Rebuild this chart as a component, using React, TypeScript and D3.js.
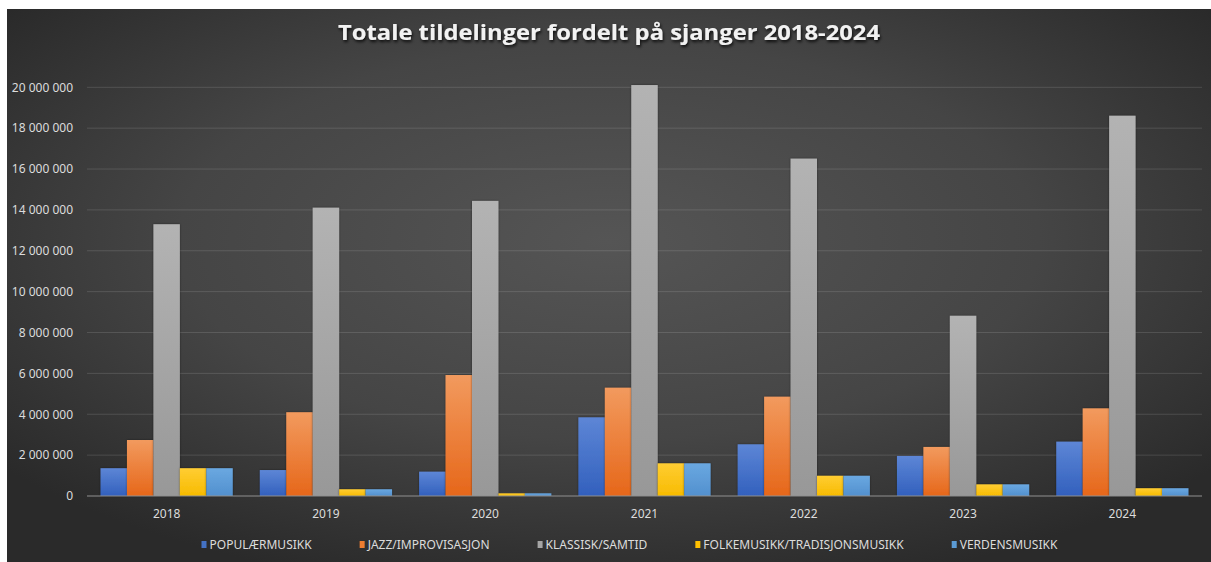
import React from "react";
import * as d3 from "d3";

const years = ["2018", "2019", "2020", "2021", "2022", "2023", "2024"];
const seriesNames = [
  "POPULÆRMUSIKK",
  "JAZZ/IMPROVISASJON",
  "KLASSISK/SAMTID",
  "FOLKEMUSIKK/TRADISJONSMUSIKK",
  "VERDENSMUSIKK",
];
const popular = [1360000, 1270000, 1190000, 3850000, 2530000, 1960000, 2660000];
const jazz = [2740000, 4100000, 5920000, 5300000, 4860000, 2400000, 4290000];
const klassisk = [13300000, 14110000, 14440000, 20110000, 16510000, 8820000, 18610000];
const folk = [1360000, 330000, 130000, 1600000, 990000, 570000, 380000];
const verden = [1360000, 330000, 130000, 1600000, 990000, 570000, 380000];
const yTicks = [0, 2000000, 4000000, 6000000, 8000000, 10000000, 12000000, 14000000, 16000000, 18000000, 20000000];

const seriesValues = [popular, jazz, klassisk, folk, verden];
const colors = ["#4472C4", "#ED7D31", "#A5A5A5", "#FFC000", "#5B9BD5"];
const gradTop = ["#5d86d6", "#f29a5e", "#b3b3b3", "#ffcd33", "#6aa8e1"];
const gradBot = ["#3260bd", "#e6671a", "#989898", "#f7bb00", "#5290ce"];

const W = 1211;
const H = 562;
const FONT = "'Noto Sans', 'Open Sans', sans-serif";

function measure(text: string, font: string): number {
  const c = document.createElement("canvas");
  const ctx = c.getContext("2d");
  if (!ctx) return text.length * 7;
  ctx.font = font;
  return ctx.measureText(text).width;
}

export default function App() {
  const x0 = d3.scaleBand<string>().domain(years).range([87, 1202]).paddingInner(0.17).paddingOuter(0.085);
  const x1 = d3.scaleBand<number>().domain(d3.range(seriesNames.length)).range([0, x0.bandwidth()]).padding(0);
  const y = d3.scaleLinear().domain([0, 20000000]).range([496, 87.3]);
  const fmt = (v: number) => d3.format(",")(v).replace(/,/g, " ");

  const legendFont = `12px ${FONT}`;
  let lx = 201.5;
  const legendItems = seriesNames.map((name, i) => {
    const w = measure(name, legendFont);
    const item = { name, i, x: lx, w };
    lx += 8 + w + 48;
    return item;
  });

  return (
    <svg width={W} height={H} style={{ position: "absolute", left: 0, top: 0 }}>
      <defs>
        <radialGradient id="bg" cx="50%" cy="42%" r="65%">
          <stop offset="0%" stopColor="#555555" />
          <stop offset="55%" stopColor="#454545" />
          <stop offset="100%" stopColor="#2a2a2a" />
        </radialGradient>
        {colors.map((c, i) => (
          <linearGradient key={i} id={`g${i}`} x1="0" y1="0" x2="0" y2="1">
            <stop offset="0%" stopColor={gradTop[i]} />
            <stop offset="100%" stopColor={gradBot[i]} />
          </linearGradient>
        ))}
        <filter id="tshadow" x="-5%" y="-30%" width="110%" height="160%">
          <feDropShadow dx="1" dy="2" stdDeviation="1.5" floodColor="#000" floodOpacity="0.8" />
        </filter>
        <filter id="bshadow" x="-20%" y="-5%" width="140%" height="110%">
          <feDropShadow dx="0" dy="0" stdDeviation="1.2" floodColor="#000" floodOpacity="0.45" />
        </filter>
      </defs>
      <rect x={0} y={0} width={W} height={H} fill="#ffffff" />
      <rect x={7} y={9} width={W - 7} height={H - 9} fill="url(#bg)" />

      <text
        x={609}
        y={39.5}
        textAnchor="middle"
        fontFamily="'Open Sans', 'Noto Sans', sans-serif"
        fontWeight="bold"
        fontSize={21}
        fill="#f2f2f2"
        filter="url(#tshadow)"
        textLength={542}
        lengthAdjust="spacingAndGlyphs"
      >
        Totale tildelinger fordelt på sjanger 2018-2024
      </text>

      {yTicks.map((t) => (
        <g key={t}>
          {t > 0 && (
            <line x1={87} x2={1202} y1={y(t)} y2={y(t)} stroke="#ffffff" strokeOpacity={0.13} strokeWidth={1} />
          )}
          <text x={73} y={y(t) + 4.3} textAnchor="end" fontFamily={FONT} fontSize={12} fill="#dcdcdc">
            {fmt(t)}
          </text>
        </g>
      ))}

      {years.map((yr, yi) => (
        <g key={yr} transform={`translate(${x0(yr)},0)`}>
          {seriesValues.map((vals, si) => (
            <rect
              key={si}
              x={x1(si)}
              y={y(vals[yi])}
              width={x1.bandwidth()}
              height={y(0) - y(vals[yi])}
              fill={`url(#g${si})`}
              filter="url(#bshadow)"
            />
          ))}
        </g>
      ))}

      <line x1={87} x2={1202} y1={y(0)} y2={y(0)} stroke="#8f8f8f" strokeWidth={1.2} />

      {years.map((yr) => (
        <text
          key={yr}
          x={(x0(yr) as number) + x0.bandwidth() / 2}
          y={518}
          textAnchor="middle"
          fontFamily={FONT}
          fontSize={12}
          fill="#dcdcdc"
        >
          {yr}
        </text>
      ))}

      {legendItems.map((it) => (
        <g key={it.name}>
          <rect x={it.x} y={541} width={5} height={7} fill={colors[it.i]} />
          <text x={it.x + 8} y={549} fontFamily={FONT} fontSize={12} fill="#dcdcdc">
            {it.name}
          </text>
        </g>
      ))}
    </svg>
  );
}
